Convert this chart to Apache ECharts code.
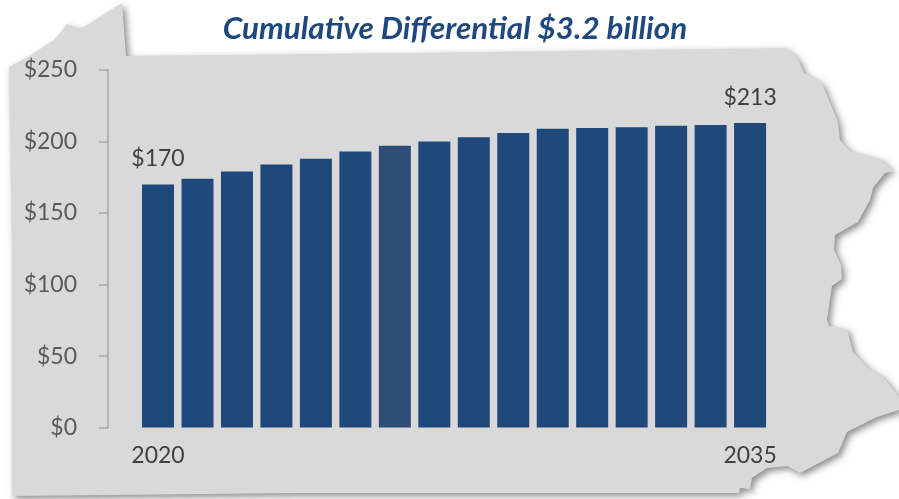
<!DOCTYPE html>
<html>
<head>
<meta charset="utf-8">
<style>html,body{margin:0;padding:0;background:#fff}#chart{width:899px;height:499px}</style>
<script src="https://cdn.jsdelivr.net/npm/echarts@6/dist/echarts.min.js"></script>
</head>
<body>
<div id="chart"></div>
<script>
const years = ['2020','2021','2022','2023','2024','2025','2026','2027','2028','2029','2030','2031','2032','2033','2034','2035'];
const costs = [170,174,179,184,188,193,197,200,203,206,209,209.5,210,211,211.5,213];
const yTicks = {min: 0, max: 250, step: 50};
const titleText = 'Cumulative Differential $3.2 billion';
const labelledYears = ['2020', '2035'];
const accentYear = '2026';

// Outline of the state silhouette behind the plot, in page pixels
const stateOutline = [
  [9,67],[28,57],[54,40],[62,31],[67,24],[72,26],[76,29],[84,27],[122,3],[126,56],
  [420,53],[786,48],[798,59],[804,73],[822,83],[830,103],[838,122],[840,140],[850,151],
  [880,159],[893,171],[885,173],[873,188],[870,200],[858,222],[835,235],[834,250],
  [841,265],[842,279],[832,286],[827,320],[829,326],[847,329],[853,352],[867,367],
  [883,377],[899,397],[899,410],[877,417],[847,432],[838,453],[800,473],[787,466],
  [767,468],[752,478],[750,489],[740,488],[739,493],[300,493],[12,496],[12,250]
];

const chart = echarts.init(document.getElementById('chart'), null, {renderer: 'canvas'});
chart.setOption({
  animation: false,
  backgroundColor: '#ffffff',
  graphic: [{
    type: 'polygon',
    z: -10,
    silent: true,
    shape: {points: stateOutline},
    style: {
      fill: '#d9d9d9',
      shadowBlur: 7,
      shadowColor: 'rgba(60,60,60,0.6)',
      shadowOffsetX: 3,
      shadowOffsetY: 3
    }
  }],
  title: {
    text: titleText,
    left: 450,
    top: 8,
    textAlign: 'center',
    textStyle: {
      fontFamily: 'Lato',
      fontSize: 31.4,
      fontWeight: 'bold',
      fontStyle: 'italic',
      color: '#1f497d'
    }
  },
  grid: {left: 138.3, right: 129.2, top: 70, bottom: 71.4},
  xAxis: {
    type: 'category',
    data: years,
    axisLine: {show: false},
    axisTick: {show: false},
    axisLabel: {
      interval: (i, name) => labelledYears.includes(name),
      margin: 16,
      fontFamily: 'Lato',
      fontSize: 23,
      color: '#404040'
    }
  },
  yAxis: {
    type: 'value',
    min: yTicks.min,
    max: yTicks.max,
    interval: yTicks.step,
    offset: 30.3,
    splitLine: {show: false},
    axisLine: {show: true, lineStyle: {color: '#a6a6a6', width: 1.5}},
    axisTick: {show: true, length: 9, lineStyle: {color: '#a6a6a6', width: 1.5}},
    axisLabel: {
      margin: 31,
      fontFamily: 'Lato',
      fontSize: 23,
      color: '#595959',
      formatter: v => '$' + v
    }
  },
  series: [{
    type: 'bar',
    barWidth: 32,
    data: costs.map((v, i) => ({
      value: v,
      itemStyle: {color: years[i] === accentYear ? '#2e4e78' : '#1f487b'},
      label: {
        show: labelledYears.includes(years[i]),
        position: 'top',
        distance: 14,
        formatter: '$' + Math.round(v),
        fontFamily: 'Lato',
        fontSize: 23,
        color: '#404040'
      }
    }))
  }]
});
</script>
</body>
</html>
